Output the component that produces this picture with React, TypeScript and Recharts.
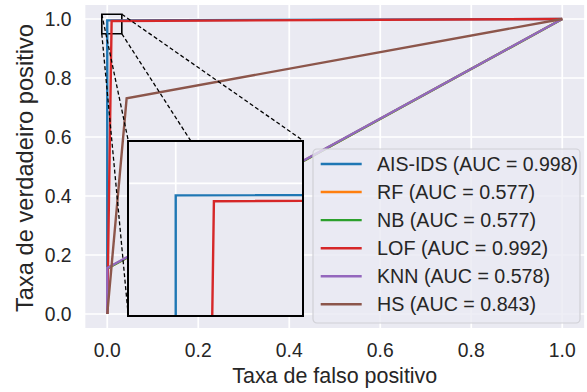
import {
  CartesianGrid,
  Label,
  Line,
  LineChart,
  ReferenceArea,
  ReferenceLine,
  XAxis,
  YAxis,
} from 'recharts';

// ROC points per model (binary predictions -> three points each)
const MODELS = ['AIS-IDS', 'RF', 'NB', 'LOF', 'KNN', 'HS'];
const AUC = [0.998, 0.577, 0.577, 0.992, 0.578, 0.843];
const FPR = [
  [0, 0, 1],
  [0, 0, 1],
  [0, 0, 1],
  [0, 0.0096, 1],
  [0, 0, 1],
  [0, 0.0426, 1],
];
const TPR = [
  [0, 0.9955, 1],
  [0, 0.154, 1],
  [0, 0.154, 1],
  [0, 0.9933, 1],
  [0, 0.156, 1],
  [0, 0.731, 1],
];
const TICKS = [0, 0.2, 0.4, 0.6, 0.8, 1.0];

// zoomed region and where its inset sits, both in data units
const ZOOM_X = [-0.012, 0.032];
const ZOOM_Y = [0.95, 1.016];
const INSET_X = [0.0462, 0.4308];
const INSET_Y = [-0.0058, 0.5875];

const LINE_COLORS = ['#1f77b4', '#ff7f0e', '#2ca02c', '#d62728', '#9467bd', '#8c564b'];
// rendered width of each legend label, px
const LEGEND_TEXT_W = [201, 158, 159, 171, 173, 159];

const W = 587;
const H = 392;
const PLOT = { left: 84.5, top: 4.25, right: 585, bottom: 328.75 };
const DOMAIN = [-0.05, 1.05];
const FONT = '"Liberation Sans", Arial, sans-serif';
const TEXT = '#262626';
const BG = '#eaeaf2';
const LW = 2.4;

const series = MODELS.map((name, i) => ({
  name,
  color: LINE_COLORS[i],
  points: FPR[i].map((x, j) => ({ x, y: TPR[i][j] })),
}));

const toPxX = (v: number) =>
  PLOT.left + ((v - DOMAIN[0]) / (DOMAIN[1] - DOMAIN[0])) * (PLOT.right - PLOT.left);
const toPxY = (v: number) =>
  PLOT.top + ((DOMAIN[1] - v) / (DOMAIN[1] - DOMAIN[0])) * (PLOT.bottom - PLOT.top);

const insetLeft = toPxX(INSET_X[0]);
const insetTop = toPxY(INSET_Y[1]);
const insetW = toPxX(INSET_X[1]) - insetLeft;
const insetH = toPxY(INSET_Y[0]) - insetTop;

// corner-to-corner connectors between the marked box and the inset
const connectors = [0, 1].flatMap((a) =>
  [0, 1].map((b) => [
    { x: ZOOM_X[a], y: ZOOM_Y[b] },
    { x: INSET_X[a], y: INSET_Y[b] },
  ]),
);

function RocLegend() {
  return (
    <svg
      width={269}
      height={176}
      style={{ position: 'absolute', left: 312, top: 148, overflow: 'visible' }}
    >
      <rect
        x={1}
        y={1}
        width={267}
        height={174}
        rx={4}
        fill={BG}
        fillOpacity={0.8}
        stroke="#d0d0d6"
        strokeWidth={1.2}
      />
      {series.map((s, i) => {
        const cy = 16 + i * 28.06;
        return (
          <g key={s.name}>
            <line x1={8.7} x2={49.7} y1={cy} y2={cy} stroke={s.color} strokeWidth={LW} />
            <text
              x={65}
              y={cy + 7}
              fontSize={19.6}
              fontFamily={FONT}
              fill={TEXT}
              textLength={LEGEND_TEXT_W[i]}
              lengthAdjust="spacingAndGlyphs"
            >
              {`${s.name} (AUC = ${AUC[i].toFixed(3)})`}
            </text>
          </g>
        );
      })}
    </svg>
  );
}

const tickStyle = { fontSize: 19.3, fill: TEXT, fontFamily: FONT };

export default function App() {
  const midX = (PLOT.left + PLOT.right) / 2;

  return (
    <div style={{ position: 'absolute', left: 0, top: 0, width: W, height: H, background: '#fff' }}>
      <LineChart
        width={W}
        height={H}
        margin={{ top: PLOT.top, right: W - PLOT.right, bottom: 0, left: 0 }}
      >
        <CartesianGrid fill={BG} stroke="#fff" strokeWidth={1.7} />
        <XAxis
          type="number"
          dataKey="x"
          domain={DOMAIN}
          ticks={TICKS}
          allowDataOverflow
          height={H - PLOT.bottom}
          axisLine={false}
          tickLine={false}
          tickSize={0}
          tickMargin={14.5}
          tick={tickStyle}
          tickFormatter={(v: number) => v.toFixed(1)}
        >
          <Label
            content={() => (
              <text
                x={midX}
                y={382.8}
                textAnchor="middle"
                fontSize={21.6}
                fontFamily={FONT}
                fill={TEXT}
                textLength={205}
                lengthAdjust="spacingAndGlyphs"
              >
                Taxa de falso positivo
              </text>
            )}
          />
        </XAxis>
        <YAxis
          type="number"
          domain={DOMAIN}
          ticks={TICKS}
          allowDataOverflow
          width={PLOT.left}
          axisLine={false}
          tickLine={false}
          tickSize={0}
          tickMargin={13}
          tick={tickStyle}
          tickFormatter={(v: number) => v.toFixed(1)}
        >
          <Label
            content={() => (
              <text
                transform="translate(32.5,168) rotate(-90)"
                textAnchor="middle"
                fontSize={23.2}
                fontFamily={FONT}
                fill={TEXT}
                textLength={288}
                lengthAdjust="spacingAndGlyphs"
              >
                Taxa de verdadeiro positivo
              </text>
            )}
          />
        </YAxis>
        {series.map((s) => (
          <Line
            key={s.name}
            data={s.points}
            dataKey="y"
            name={s.name}
            type="linear"
            stroke={s.color}
            strokeWidth={LW}
            dot={false}
            activeDot={false}
            isAnimationActive={false}
          />
        ))}
        <ReferenceArea
          x1={ZOOM_X[0]}
          x2={ZOOM_X[1]}
          y1={ZOOM_Y[0]}
          y2={ZOOM_Y[1]}
          fill="none"
          fillOpacity={0}
          stroke="#000"
          strokeWidth={1.6}
        />
        {connectors.map((seg, i) => (
          <ReferenceLine
            key={i}
            segment={seg}
            stroke="#000"
            strokeWidth={1.3}
            strokeDasharray="4 2.5"
          />
        ))}
      </LineChart>

      <div
        style={{
          position: 'absolute',
          left: insetLeft,
          top: insetTop,
          width: insetW,
          height: insetH,
          background: BG,
        }}
      >
        <LineChart width={insetW} height={insetH} margin={{ top: 0, right: 0, bottom: 0, left: 0 }}>
          <CartesianGrid stroke="#fff" strokeWidth={1.7} />
          <XAxis type="number" dataKey="x" domain={ZOOM_X} ticks={[0]} allowDataOverflow hide />
          <YAxis type="number" domain={ZOOM_Y} ticks={[1]} allowDataOverflow hide />
          {series.map((s) => (
            <Line
              key={s.name}
              data={s.points}
              dataKey="y"
              type="linear"
              stroke={s.color}
              strokeWidth={LW}
              dot={false}
              activeDot={false}
              isAnimationActive={false}
            />
          ))}
        </LineChart>
        <div
          style={{
            position: 'absolute',
            left: -1.1,
            top: -1.1,
            right: -1.1,
            bottom: -1.1,
            border: '2.2px solid #000',
            pointerEvents: 'none',
          }}
        />
      </div>

      <RocLegend />
    </div>
  );
}
